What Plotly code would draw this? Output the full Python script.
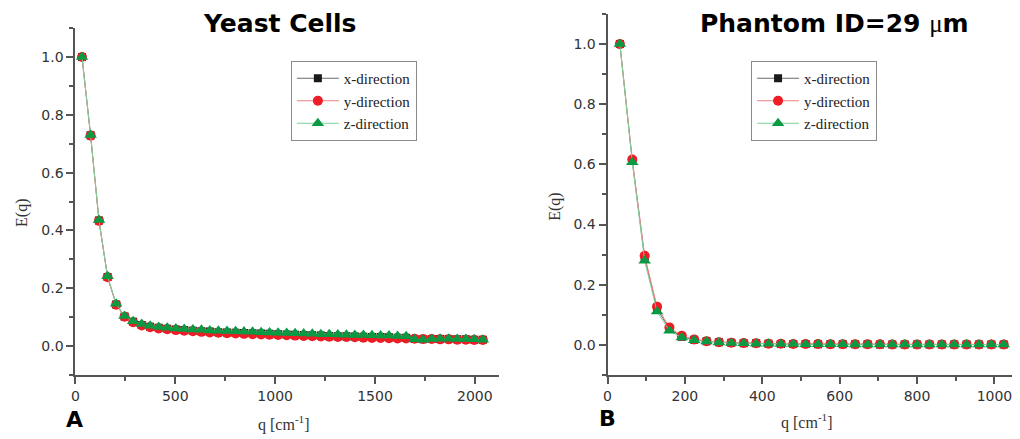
import plotly.graph_objects as go

# ---------------- data ----------------
q_yeast = [33, 76, 118, 161, 204, 246, 289, 332, 374, 417, 460, 503, 545, 588, 631, 673,
           716, 759, 802, 844, 887, 930, 972, 1015, 1058, 1100, 1143, 1186, 1229, 1271, 1314, 1357,
           1399, 1442, 1485, 1528, 1570, 1613, 1656, 1698, 1741, 1784, 1826, 1869, 1912, 1955, 1997, 2040]
yeast_x = [1.000, 0.729, 0.434, 0.239, 0.144, 0.102, 0.084, 0.073, 0.067, 0.063,
           0.060, 0.057, 0.055, 0.053, 0.051, 0.050, 0.048, 0.047, 0.046, 0.045,
           0.044, 0.043, 0.042, 0.041, 0.040, 0.039, 0.038, 0.037, 0.036, 0.035,
           0.034, 0.034, 0.033, 0.032, 0.031, 0.031, 0.030, 0.029, 0.029, 0.024,
           0.023, 0.024, 0.024, 0.024, 0.023, 0.023, 0.022, 0.022]
yeast_y = [1.000, 0.728, 0.433, 0.238, 0.143, 0.101, 0.082, 0.071, 0.065, 0.061,
           0.058, 0.055, 0.053, 0.051, 0.049, 0.047, 0.046, 0.044, 0.043, 0.042,
           0.041, 0.040, 0.039, 0.038, 0.037, 0.036, 0.035, 0.034, 0.033, 0.032,
           0.031, 0.031, 0.030, 0.029, 0.028, 0.028, 0.027, 0.026, 0.026, 0.025,
           0.024, 0.024, 0.023, 0.023, 0.022, 0.022, 0.021, 0.021]
yeast_z = [1.000, 0.730, 0.436, 0.241, 0.146, 0.104, 0.086, 0.076, 0.070, 0.066,
           0.063, 0.061, 0.059, 0.057, 0.056, 0.054, 0.053, 0.052, 0.051, 0.050,
           0.049, 0.048, 0.047, 0.046, 0.045, 0.044, 0.043, 0.042, 0.041, 0.041,
           0.040, 0.039, 0.038, 0.038, 0.037, 0.036, 0.036, 0.035, 0.034, 0.023,
           0.022, 0.024, 0.025, 0.025, 0.024, 0.024, 0.023, 0.022]

q_phantom = [32, 64, 96, 128, 160, 192, 224, 256, 288, 320, 352, 384, 416, 448, 480, 512,
             544, 576, 608, 640, 672, 704, 736, 768, 800, 832, 864, 896, 928, 960, 992, 1024]
phantom_x = [1.000, 0.612, 0.290, 0.120, 0.053, 0.027, 0.017, 0.012, 0.009, 0.007,
             0.005, 0.005, 0.004, 0.003, 0.003, 0.003, 0.002, 0.002, 0.002, 0.002,
             0.002, 0.001, 0.001, 0.001, 0.001, 0.001, 0.001, 0.001, 0.001, 0.001,
             0.001, 0.001]
phantom_y = [1.000, 0.616, 0.296, 0.127, 0.058, 0.030, 0.018, 0.012, 0.009, 0.007,
             0.006, 0.005, 0.004, 0.004, 0.003, 0.003, 0.003, 0.002, 0.002, 0.002,
             0.002, 0.002, 0.001, 0.001, 0.001, 0.001, 0.001, 0.001, 0.001, 0.001,
             0.001, 0.001]
phantom_z = [1.000, 0.607, 0.280, 0.111, 0.047, 0.024, 0.015, 0.011, 0.008, 0.006,
             0.005, 0.004, 0.004, 0.003, 0.003, 0.002, 0.002, 0.002, 0.002, 0.001,
             0.001, 0.001, 0.001, 0.001, 0.001, 0.001, 0.001, 0.001, 0.001, 0.001,
             0.001, 0.001]

series_names = ["x-direction", "y-direction", "z-direction"]
# ---------------------------------------

styles = [
    dict(line=dict(color="#444444", width=0.8),
         marker=dict(symbol="square", size=8, color="#1a1a1a")),
    dict(line=dict(color="#f08080", width=1),
         marker=dict(symbol="circle", size=10, color="#ee1c25")),
    dict(line=dict(color="#7fcf98", width=1),
         marker=dict(symbol="triangle-up", size=11, color="#0a9a44")),
]

fig = go.Figure()
panels = [
    (q_yeast, [yeast_x, yeast_y, yeast_z], "x", "y", "legend"),
    (q_phantom, [phantom_x, phantom_y, phantom_z], "x2", "y2", "legend2"),
]
for qv, ser, xa, ya, lg in panels:
    for name, vals, st in zip(series_names, ser, styles):
        fig.add_trace(go.Scatter(
            x=qv, y=vals, name=name, mode="lines+markers",
            line=st["line"], marker=st["marker"],
            xaxis=xa, yaxis=ya, legend=lg, showlegend=True))

axis_common = dict(
    showline=True, linecolor="#555555", linewidth=2, showgrid=False, zeroline=False,
    ticks="outside", ticklen=7, tickwidth=1.5, tickcolor="#555555",
    tickfont=dict(family="DejaVu Sans", size=14, color="#333333"),
)

legend_common = dict(
    xanchor="left", yanchor="top",
    bordercolor="#8a8a8a", borderwidth=1, bgcolor="white",
    font=dict(family="Liberation Serif", size=15, color="#222222"),
    itemwidth=42, tracegroupgap=0, entrywidth=80, entrywidthmode="pixels",
)

fig.update_layout(
    width=1020, height=439,
    margin=dict(l=0, r=0, t=0, b=0),
    paper_bgcolor="white", plot_bgcolor="white",
    xaxis=dict(domain=[0.0703, 0.487], range=[0, 2120], dtick=500, tick0=0,
               minor=dict(dtick=250, ticks="outside", ticklen=4, tickcolor="#555555"),
               anchor="y", **axis_common),
    yaxis=dict(domain=[0.146, 0.936], range=[-0.1, 1.1], dtick=0.2, tick0=0,
               tickformat=".1f",
               minor=dict(dtick=0.1, ticks="outside", ticklen=4, tickcolor="#555555"),
               anchor="x", **axis_common),
    xaxis2=dict(domain=[0.594, 0.992], range=[0, 1045], dtick=200, tick0=0,
                minor=dict(dtick=100, ticks="outside", ticklen=4, tickcolor="#555555"),
                anchor="y2", **axis_common),
    yaxis2=dict(domain=[0.146, 0.968], range=[-0.1, 1.1], dtick=0.2, tick0=0,
                tickformat=".1f",
                minor=dict(dtick=0.1, ticks="outside", ticklen=4, tickcolor="#555555"),
                anchor="x2", **axis_common),
    legend=dict(x=288/1020, y=1-61/439, **legend_common),
    legend2=dict(x=750/1020, y=1-61/439, **legend_common),
)

ann = [
    dict(text="<b>Yeast Cells</b>", x=277/1020, y=1-23/439,
         font=dict(family="DejaVu Sans", size=25, color="black")),
    dict(text="<b>Phantom ID=29 </b><span style='font-family:Liberation Serif'>μ</span><b>m</b>",
         x=834/1020, y=1-23/439,
         font=dict(family="DejaVu Sans", size=25, color="black")),
    dict(text="<b>A</b>", x=71/1020, y=1-419/439,
         font=dict(family="DejaVu Sans", size=22, color="black")),
    dict(text="<b>B</b>", x=606/1020, y=1-418/439,
         font=dict(family="DejaVu Sans", size=22, color="black")),
    dict(text="q [cm<sup>-1</sup>]", x=281/1020, y=1-423/439,
         font=dict(family="Liberation Serif", size=16, color="#333333")),
    dict(text="q [cm<sup>-1</sup>]", x=806/1020, y=1-421/439,
         font=dict(family="Liberation Serif", size=16, color="#333333")),
    dict(text="E(q)", x=18/1020, y=1-213/439, textangle=-90,
         font=dict(family="Liberation Serif", size=16, color="#333333")),
    dict(text="E(q)", x=553/1020, y=1-207/439, textangle=-90,
         font=dict(family="Liberation Serif", size=16, color="#333333")),
]
for a in ann:
    fig.add_annotation(xref="paper", yref="paper", xanchor="center", yanchor="middle",
                       showarrow=False, **a)

fig.write_html("out.html", config={"displayModeBar": False},
               post_script="document.body.style.margin='0px';document.body.style.padding='0px';")
